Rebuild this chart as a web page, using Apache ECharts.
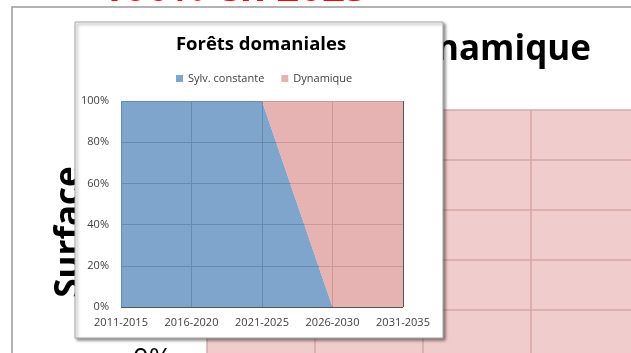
<!DOCTYPE html>
<html>
<head>
<meta charset="utf-8">
<script src="https://cdn.jsdelivr.net/npm/echarts@6/dist/echarts.min.js"></script>
<style>html,body{margin:0;padding:0;background:#fff;}#c{width:631px;height:353px;}</style>
</head>
<body>
<div id="c"></div>
<script>
// Inset chart data
var categories = ['2011-2015', '2016-2020', '2021-2025', '2026-2030', '2031-2035'];
var sylvConstante = [100, 100, 100, 0, 0];
var dynamique = [0, 0, 0, 100, 100];
var yTicks = [0, 20, 40, 60, 80, 100];
// Background chart (partly hidden) data
var bgCategories = ['2011-2015', '2016-2020', '2021-2025', '2026-2030', '2031-2035'];
var bgDynamique = [100, 100, 100, 100, 100];

var FONT = '"Open Sans", "Noto Sans", sans-serif';
var chart = echarts.init(document.getElementById('c'), null, {renderer: 'canvas'});
chart.setOption({
  backgroundColor: '#ffffff',
  animation: false,
  title: [
    {text: 'Sylviculture dynamique', right: 35, top: 28, z: 3,
     textStyle: {fontFamily: FONT, fontWeight: 'bold', fontSize: 35, color: '#000000'}},
    {text: 'Forêts domaniales', left: 256, top: 30, textAlign: 'center', z: 8,
     textStyle: {fontFamily: FONT, fontWeight: 'bold', fontSize: 18.5, color: '#000000'}}
  ],
  legend: {
    data: ['Sylv. constante', 'Dynamique'],
    left: 171, top: 68, itemWidth: 7, itemHeight: 7, itemGap: 17, z: 8,
    icon: 'rect',
    textStyle: {fontFamily: FONT, fontSize: 11, color: '#404040'}
  },
  graphic: [
    {type: 'rect', z: 0, shape: {x: 12, y: 7, width: 640, height: 360},
     style: {fill: '#ffffff', stroke: '#9a9a9a', lineWidth: 1.5}},
    {type: 'text', z: 1, x: 101, y: -10,
     style: {text: '100% en 2025', fontFamily: FONT, fontWeight: 'bold', fontSize: 40, fill: '#ff0000',
             textAlign: 'left', textVerticalAlign: 'middle'}},
    {type: 'text', z: 3, x: 70, y: 232, rotation: Math.PI / 2,
     style: {text: 'Surface', fontFamily: FONT, fontWeight: 'bold', fontSize: 35, fill: '#000000',
             textAlign: 'center', textVerticalAlign: 'middle'}},
    {type: 'rect', z: 5, shape: {x: 75, y: 22, width: 368, height: 316},
     style: {fill: '#ffffff', stroke: '#a8a8a8', lineWidth: 1,
             shadowBlur: 3, shadowOffsetX: 2, shadowOffsetY: 2, shadowColor: 'rgba(0,0,0,0.45)'}}
  ],
  grid: [
    {left: 207, right: -8, top: 110, bottom: -7, containLabel: false, outerBoundsMode: 'none'},
    {left: 121, right: 228, top: 101, bottom: 46, containLabel: false, outerBoundsMode: 'none'}
  ],
  xAxis: [
    {type: 'category', gridIndex: 0, data: bgCategories, boundaryGap: false, z: 1,
     axisLine: {show: false}, axisTick: {show: false}, axisLabel: {show: false},
     splitLine: {show: true, lineStyle: {color: '#cdb1b1', width: 1.5}}},
    {type: 'category', gridIndex: 1, data: categories, boundaryGap: false, z: 6,
     axisLine: {show: false}, axisTick: {show: false},
     axisLabel: {margin: 10, fontFamily: FONT, fontSize: 11, color: '#404040'},
     splitLine: {show: true, lineStyle: {color: '#555555', width: 1}}}
  ],
  yAxis: [
    {type: 'value', gridIndex: 0, min: 0, max: 100, interval: 20, z: 1,
     axisLine: {show: false}, axisTick: {show: false},
     axisLabel: {margin: 35, fontFamily: FONT, fontSize: 28, color: '#000000', formatter: '{value}%'},
     splitLine: {show: true, lineStyle: {color: '#cdb1b1', width: 1.5}}},
    {type: 'value', gridIndex: 1, min: yTicks[0], max: yTicks[yTicks.length - 1], interval: 20, z: 6,
     axisLine: {show: false}, axisTick: {show: false},
     axisLabel: {margin: 12, fontFamily: FONT, fontSize: 11, color: '#404040', formatter: '{value}%'},
     splitLine: {show: true, lineStyle: {color: '#555555', width: 1}}}
  ],
  series: [
    {name: 'bgDynamique', type: 'line', xAxisIndex: 0, yAxisIndex: 0, z: 2,
     data: bgDynamique, symbol: 'none', lineStyle: {width: 0},
     itemStyle: {color: '#e19999'}, areaStyle: {color: '#e19999', opacity: 0.5}},
    {name: 'Sylv. constante', type: 'line', xAxisIndex: 1, yAxisIndex: 1, stack: 'total', z: 7,
     data: sylvConstante, symbol: 'none', lineStyle: {width: 0},
     itemStyle: {color: '#7fa5cd'}, areaStyle: {color: '#6995c4', opacity: 0.85}},
    {name: 'Dynamique', type: 'line', xAxisIndex: 1, yAxisIndex: 1, stack: 'total', z: 7,
     data: dynamique, symbol: 'none', lineStyle: {width: 0},
     itemStyle: {color: '#e6b2b2'}, areaStyle: {color: '#e2a5a5', opacity: 0.85}}
  ]
});
</script>
</body>
</html>
